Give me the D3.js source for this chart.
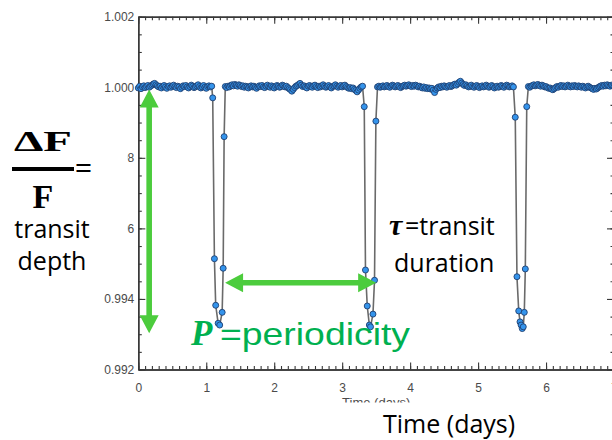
<!DOCTYPE html>
<html>
<head>
<meta charset="utf-8">
<script src="https://cdn.jsdelivr.net/npm/d3@7"></script>
<style>
  html, body { margin: 0; padding: 0; background: #fff; }
  svg { display: block; }
</style>
</head>
<body>
<svg id="chart" width="612" height="440"></svg>
<script>
// ---- Light curve data (relative flux vs. time in days) ----
const cadence = 0.02;                       // days between out-of-transit samples
const baselineStarts = [0.00, 1.28, 3.52, 5.74];

const baselineFlux1 = [0.99998,1.00003,0.99996,1.00001,1.00004,0.99999,1.00002,1.00005,1.00000,1.00003,
  1.00006,1.00009,1.00011,1.00007,1.00004,1.00001,1.00003,0.99998,1.00002,1.00005,
  1.00001,0.99997,1.00002,1.00004,1.00000,1.00003,1.00006,1.00002,0.99999,1.00003,
  1.00001,0.99996,1.00000,1.00004,1.00002,1.00005,1.00001,0.99998,1.00002,1.00006,
  1.00003,0.99999,1.00001,1.00004,1.00007,1.00002,0.99998,1.00001,1.00005,1.00000,
  0.99997,1.00002,1.00004,1.00001,1.00003];

const baselineFlux2 = [1.00002,0.99999,1.00003,1.00001,1.00005,1.00007,1.00004,1.00008,1.00006,1.00003,
  1.00007,1.00005,1.00002,1.00004,1.00000,1.00003,1.00001,0.99998,1.00002,1.00004,
  1.00001,1.00003,1.00000,0.99997,1.00001,1.00004,1.00002,1.00005,1.00001,0.99999,
  1.00003,1.00006,1.00002,1.00000,1.00004,1.00001,0.99998,1.00002,1.00005,1.00003,
  1.00000,1.00002,1.00006,1.00004,1.00001,1.00003,0.99999,0.99996,0.99993,0.99989,
  0.99994,0.99999,1.00003,1.00005,1.00008,1.00011,1.00006,1.00002,1.00004,1.00001,
  0.99998,1.00003,1.00005,1.00002,1.00000,1.00004,1.00006,1.00002,0.99999,1.00003,
  1.00001,1.00004,1.00007,1.00003,1.00000,1.00002,1.00005,1.00001,0.99998,1.00002,
  1.00004,1.00007,1.00003,1.00000,1.00003,1.00005,1.00001,1.00004,1.00006,1.00002,
  0.99999,0.99997,0.99999,0.99996,0.99998,0.99994,0.99991,0.99987,0.99992,0.99997,
  1.00001,1.00003];

const baselineFlux3 = [1.00001,1.00003,1.00000,1.00002,1.00004,1.00001,1.00003,1.00005,1.00002,1.00000,
  1.00003,1.00006,1.00004,1.00001,1.00003,1.00005,1.00002,0.99999,1.00002,1.00004,
  1.00006,1.00003,1.00005,1.00007,1.00004,1.00002,1.00005,1.00003,1.00006,1.00004,
  1.00001,1.00003,1.00000,0.99998,1.00001,0.99997,0.99999,0.99996,0.99998,0.99995,
  0.99997,0.99992,0.99985,0.99994,0.99998,1.00001,0.99999,1.00003,1.00001,1.00004,
  1.00002,1.00000,1.00003,1.00005,1.00002,1.00004,1.00007,1.00009,1.00006,1.00010,
  1.00014,1.00017,1.00012,1.00008,1.00005,1.00007,1.00004,1.00001,1.00003,1.00006,
  1.00002,1.00000,1.00003,1.00005,1.00002,0.99999,1.00002,1.00004,1.00001,1.00003,
  1.00006,1.00003,1.00000,1.00002,1.00005,1.00002,0.99998,1.00001,1.00003,1.00000,
  1.00002,1.00005,1.00003,1.00000,1.00003,1.00006,1.00004,1.00001,1.00002,1.00004,
  1.00001];

const baselineFlux4 = [1.00002,1.00000,1.00003,1.00005,1.00007,1.00004,1.00006,1.00008,1.00005,1.00003,
  1.00006,1.00004,1.00001,1.00002,0.99999,0.99997,0.99998,0.99995,0.99993,0.99996,
  0.99999,1.00002,1.00000,1.00003,1.00005,1.00002,1.00004,1.00001,1.00003,1.00006,
  1.00003,1.00001,1.00004,1.00002,1.00005,1.00003,1.00001,1.00004,1.00002,1.00000,
  1.00003,1.00001,0.99998,1.00001,1.00003,1.00000,0.99998,0.99996,0.99994,0.99997,
  0.99995,0.99998,1.00001,1.00003,1.00005,1.00003,1.00006,1.00004,1.00007,1.00005,
  1.00003,1.00006,1.00004,1.00002];

// In-transit samples
const transitTimes1 = [1.095, 1.120, 1.139, 1.175, 1.198, 1.234, 1.249, 1.263];
const transitFlux1  = [0.99970, 0.99514, 0.99382, 0.99331, 0.99326, 0.99362, 0.99487, 0.99860];
const transitTimes2 = [3.325, 3.343, 3.369, 3.400, 3.417, 3.453, 3.476, 3.496];
const transitFlux2  = [0.99945, 0.99482, 0.99380, 0.99326, 0.99321, 0.99357, 0.99453, 0.99904];
const transitTimes3 = [5.547, 5.572, 5.598, 5.617, 5.633, 5.650, 5.665, 5.680, 5.695, 5.716];
const transitFlux3  = [0.99915, 0.99463, 0.99366, 0.99335, 0.99326, 0.99316, 0.99321, 0.99362, 0.99485, 0.99945];

// Axis ticks
const xTickValues = [0, 1, 2, 3, 4, 5, 6, 7];
const xTickLabels = ["0", "1", "2", "3", "4", "5", "6", "7"];
const yTickValues = [0.992, 0.994, 0.996, 0.998, 1.000, 1.002];
const yTickLabels = ["0.992", "0.994", "0.996", "0.998", "1.000", "1.002"];

// Annotation anchors (data units)
const depthArrow  = { time: 0.16, top: 0.99994, bottom: 0.99303 };
const periodArrow = { from: 1.277, to: 3.50, flux: 0.99446 };

// ---- Assemble the series ----
const points = [];
[baselineFlux1, baselineFlux2, baselineFlux3, baselineFlux4].forEach((seg, k) => {
  seg.forEach((f, j) => points.push({ t: baselineStarts[k] + j * cadence, f }));
});
[[transitTimes1, transitFlux1], [transitTimes2, transitFlux2], [transitTimes3, transitFlux3]]
  .forEach(([ts, fs]) => ts.forEach((t, j) => points.push({ t, f: fs[j] })));
points.sort((a, b) => a.t - b.t);

// ---- Chart ----
const svg = d3.select("#chart");
svg.append("rect").attr("width", 612).attr("height", 440).attr("fill", "#fff");

const x = d3.scaleLinear().domain([0, 7]).range([138.3, 614]);
const y = d3.scaleLinear().domain([0.992, 1.002]).range([369.5, 16.7]);

const axisColor = "#383838";
const tickFont = "'Liberation Sans', Arial, Helvetica, sans-serif";

function styleAxis(g) {
  g.selectAll("path.domain").attr("stroke", axisColor).attr("stroke-width", 1.4);
  g.selectAll(".tick line").attr("stroke", axisColor).attr("stroke-width", 1.1);
  g.selectAll(".tick text").attr("fill", "#4a4a4a").style("font-family", tickFont).style("font-size", "12px");
}

const minorX = d3.range(0, 70.5, 1).map(i => i / 10);
const minorY = d3.range(0, 20.5, 1).map(i => 0.992 + i * 0.0005);

// bottom
svg.append("g").attr("transform", `translate(0,${y(0.992)})`)
  .call(d3.axisBottom(x).tickValues(minorX).tickFormat("").tickSizeInner(-3.5).tickSizeOuter(0)).call(styleAxis);
svg.append("g").attr("transform", `translate(0,${y(0.992)})`)
  .call(d3.axisBottom(x).tickValues(xTickValues).tickFormat((d, i) => xTickLabels[i])
    .tickSizeInner(-7).tickSizeOuter(0).tickPadding(14)).call(styleAxis);
// top
svg.append("g").attr("transform", `translate(0,${y(1.002)})`)
  .call(d3.axisTop(x).tickValues(minorX).tickFormat("").tickSizeInner(-3.5).tickSizeOuter(0)).call(styleAxis);
svg.append("g").attr("transform", `translate(0,${y(1.002)})`)
  .call(d3.axisTop(x).tickValues(xTickValues).tickFormat("").tickSizeInner(-7).tickSizeOuter(0)).call(styleAxis);
// left
svg.append("g").attr("transform", `translate(${x(0)},0)`)
  .call(d3.axisLeft(y).tickValues(minorY).tickFormat("").tickSizeInner(-3.5).tickSizeOuter(0)).call(styleAxis);
svg.append("g").attr("transform", `translate(${x(0)},0)`)
  .call(d3.axisLeft(y).tickValues(yTickValues).tickFormat((d, i) => yTickLabels[i])
    .tickSizeInner(-7).tickSizeOuter(0).tickPadding(4)).call(styleAxis);
// right
svg.append("g").attr("transform", `translate(${x(7)},0)`)
  .call(d3.axisRight(y).tickValues(minorY).tickFormat("").tickSizeInner(-3.5).tickSizeOuter(0)).call(styleAxis);
svg.append("g").attr("transform", `translate(${x(7)},0)`)
  .call(d3.axisRight(y).tickValues(yTickValues).tickFormat("").tickSizeInner(-7).tickSizeOuter(0)).call(styleAxis);

// small axis title (partly hidden under the caption panel)
svg.append("text").attr("x", (x(0) + x(7)) / 2).attr("y", 407)
  .attr("text-anchor", "middle").attr("fill", "#4a4a4a")
  .style("font-family", tickFont).style("font-size", "13px").text("Time (days)");

// light curve
svg.append("path").datum(points)
  .attr("fill", "none").attr("stroke", "#6a6a6a").attr("stroke-width", 1.6)
  .attr("d", d3.line().x(d => x(d.t)).y(d => y(d.f)));
svg.append("g").selectAll("circle").data(points).join("circle")
  .attr("cx", d => x(d.t)).attr("cy", d => y(d.f)).attr("r", 3.0)
  .attr("fill", "#3494ec").attr("stroke", "#1f3f70").attr("stroke-width", 0.9);

// ---- Annotations ----
const green = "#4ccc3d";
function doubleArrow(x1, y1, x2, y2) {
  const L = Math.hypot(x2 - x1, y2 - y1), ux = (x2 - x1) / L, uy = (y2 - y1) / L;
  const px = -uy, py = ux, hl = 18, hw = 9.5, sw = 2.8;
  const b1 = [x1 + ux * hl, y1 + uy * hl], b2 = [x2 - ux * hl, y2 - uy * hl];
  const pts = [
    [x1, y1],
    [b1[0] + px * hw, b1[1] + py * hw], [b1[0] + px * sw, b1[1] + py * sw],
    [b2[0] + px * sw, b2[1] + py * sw], [b2[0] + px * hw, b2[1] + py * hw],
    [x2, y2],
    [b2[0] - px * hw, b2[1] - py * hw], [b2[0] - px * sw, b2[1] - py * sw],
    [b1[0] - px * sw, b1[1] - py * sw], [b1[0] - px * hw, b1[1] - py * hw]
  ];
  svg.append("polygon").attr("points", pts.map(p => p.join(",")).join(" ")).attr("fill", green);
}

// panel behind the left-hand formula
svg.append("rect").attr("x", 0).attr("y", 100).attr("width", 127.5).attr("height", 188).attr("fill", "#fff");
// panel behind the caption
svg.append("rect").attr("x", 300).attr("y", 402.5).attr("width", 312).attr("height", 40).attr("fill", "#fff");

doubleArrow(x(depthArrow.time), y(depthArrow.top), x(depthArrow.time), y(depthArrow.bottom));
doubleArrow(x(periodArrow.from), y(periodArrow.flux), x(periodArrow.to), y(periodArrow.flux));

const serif = "'Liberation Serif', 'Times New Roman', serif";
const sans = "'Open Sans', 'Liberation Sans', sans-serif";

// ΔF / F =
svg.append("text").attr("x", 14).attr("y", 151).attr("textLength", 58).attr("lengthAdjust", "spacingAndGlyphs")
  .style("font-family", serif).style("font-weight", "bold").style("font-size", "29px").attr("fill", "#000").text("ΔF");
svg.append("rect").attr("x", 12).attr("y", 167).attr("width", 62).attr("height", 4).attr("fill", "#000");
svg.append("text").attr("x", 75).attr("y", 178)
  .style("font-family", serif).style("font-weight", "bold").style("font-size", "30px").attr("fill", "#000").text("=");
svg.append("text").attr("x", 43).attr("y", 208).attr("text-anchor", "middle")
  .style("font-family", serif).style("font-weight", "bold").style("font-size", "34px").attr("fill", "#000").text("F");
svg.append("text").attr("x", 52).attr("y", 238).attr("text-anchor", "middle")
  .style("font-family", sans).style("font-size", "25px").attr("fill", "#000").text("transit");
svg.append("text").attr("x", 52).attr("y", 270).attr("text-anchor", "middle")
  .style("font-family", sans).style("font-size", "25px").attr("fill", "#000").text("depth");

// τ = transit duration
svg.append("text").attr("x", 389).attr("y", 235)
  .style("font-family", serif).style("font-weight", "bold").style("font-style", "italic")
  .style("font-size", "30px").attr("fill", "#000").text("τ");
svg.append("text").attr("x", 405).attr("y", 235)
  .style("font-family", sans).style("font-size", "25px").attr("fill", "#000").text("=transit");
svg.append("text").attr("x", 394).attr("y", 272)
  .style("font-family", sans).style("font-size", "25px").attr("fill", "#000").text("duration");

// P = periodicity
svg.append("text").attr("x", 191).attr("y", 345)
  .style("font-family", serif).style("font-weight", "bold").style("font-style", "italic")
  .style("font-size", "35px").attr("fill", "#00b050").text("P");
svg.append("text").attr("x", 220).attr("y", 345).attr("textLength", 190).attr("lengthAdjust", "spacingAndGlyphs")
  .style("font-family", tickFont).style("font-size", "32px").attr("fill", "#00b050").text("=periodicity");

// caption
svg.append("text").attr("x", 383).attr("y", 433)
  .style("font-family", sans).style("font-size", "25px").attr("fill", "#000").text("Time (days)");
</script>
</body>
</html>
